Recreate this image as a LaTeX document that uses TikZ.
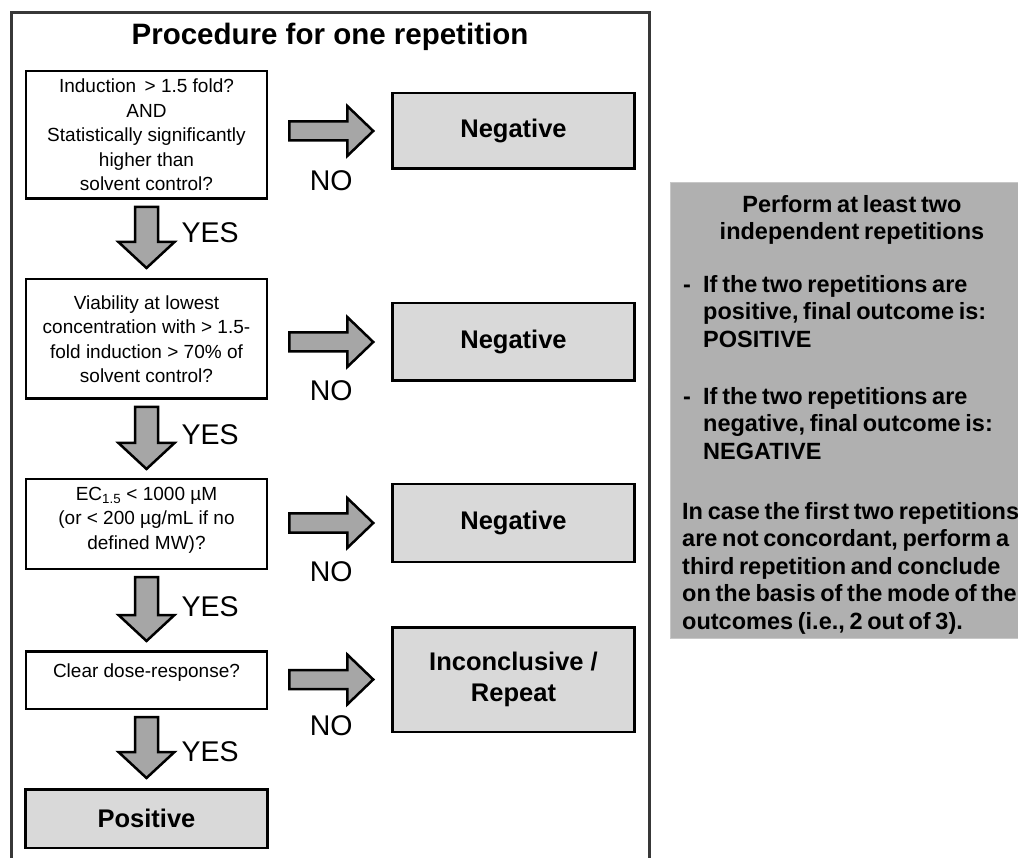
\documentclass[tikz,border=0pt]{standalone}
\usepackage{fontspec}
\setmainfont{Liberation Sans}
\usetikzlibrary{calc}
\newcommand\blockarrowdown[2]{\draw[barrow] ($(#1)+(-11.5,0)$) -- ($(#1)+(11.5,0)$) -- ($(#2)+(11.5,-26)$) -- ($(#2)+(28,-26)$) -- (#2) -- ($(#2)+(-28,-26)$) -- ($(#2)+(-11.5,-26)$) -- cycle;}
\newcommand\blockarrowright[2]{\draw[barrow] ($(#1)+(0,-9.5)$) -- ($(#2)+(-26,-9.5)$) -- ($(#2)+(-26,-25)$) -- (#2) -- ($(#2)+(-26,25)$) -- ($(#2)+(-26,9.5)$) -- ($(#1)+(0,9.5)$) -- cycle;}
\newcommand\tightwords{\spaceskip=0.2em plus 0.05em\relax}
\begin{document}
\begin{tikzpicture}[x=1pt,y=-1pt,
  frame/.style={draw=black!78, line width=3pt},
  qbox/.style={draw=black, line width=2.5pt, fill=white, minimum width=241pt, inner sep=2pt, align=center, font=\fontsize{19}{24.5}\selectfont},
  outc/.style={draw=black, line width=2.5pt, fill=black!15, minimum width=242pt, inner sep=2pt, align=center, font=\bfseries\fontsize{25.5}{31}\selectfont},
  barrow/.style={draw=black, line width=2.5pt, fill=black!35, line join=miter},
  yesno/.style={inner sep=0pt, font=\fontsize{28.5}{32}\selectfont},
  panel/.style={draw=black!22, line width=1pt, fill=black!31, minimum width=360pt, minimum height=456pt, inner sep=0pt},
  ptext/.style={inner sep=0pt, align=left, font=\bfseries\fontsize{23.5}{27.5}\selectfont}
]
\useasboundingbox (0,0) rectangle (1018,858);
\fill[white] (0,0) rectangle (1018,858);

% outer frame
\draw[frame] (11,875) -- (11,12.5) -- (649,12.5) -- (649,875);
\node[inner sep=0pt, anchor=base, font=\bfseries\fontsize{29.5}{34}\selectfont] (title) at (330,45) {Procedure for one repetition};

% question boxes
\node[qbox, minimum height=127.5pt] (q1) at (146.5,135) {Induction\, > 1.5 fold?\\AND\\Statistically significantly\\higher than\\solvent control?};
\node[qbox, minimum height=119.5pt] (q2) at (146.5,339) {Viability at lowest\\concentration with > 1.5-\\fold induction > 70\% of\\solvent control?};
\node[qbox, minimum height=89.5pt] (q3) at (146.5,524) {EC\textsubscript{1.5} < 1000 µM\\(or < 200 µg/mL if no\\defined MW)?\rule[-12pt]{0pt}{0pt}};
\node[qbox, minimum height=57.5pt] (q4) at (146.5,680) {Clear dose-response?\rule[-18pt]{0pt}{0pt}};
\node[outc, minimum height=58.5pt] (pos) at (146.5,818.5) {Positive};

% outcome boxes
\node[outc, minimum height=75.5pt] (n1) at (513.5,131) {Negative};
\node[outc, minimum height=77.5pt] (n2) at (513.5,342) {Negative};
\node[outc, minimum height=77.5pt] (n3) at (513.5,523) {Negative};
\node[outc, minimum height=104.5pt] (n4) at (513.5,679.5) {Inconclusive /\\Repeat};

% vertical arrows
\coordinate (a1s) at ($(q1.south)+(0,7)$);
\coordinate (a1e) at ($(q2.north)+(0,-10)$);
\coordinate (a2s) at ($(q2.south)+(0,7)$);
\coordinate (a2e) at ($(q3.north)+(0,-9)$);
\coordinate (a3s) at ($(q3.south)+(0,7)$);
\coordinate (a3e) at ($(q4.north)+(0,-9)$);
\coordinate (a4s) at ($(q4.south)+(0,7)$);
\coordinate (a4e) at ($(pos.north)+(0,-10)$);
\blockarrowdown{a1s}{a1e}
\blockarrowdown{a2s}{a2e}
\blockarrowdown{a3s}{a3e}
\blockarrowdown{a4s}{a4e}
\node[yesno, anchor=west] (y1) at ($(a1s)+(35,26)$) {YES};
\node[yesno, anchor=west] (y2) at ($(a2s)+(35,28)$) {YES};
\node[yesno, anchor=west] (y3) at ($(a3s)+(35,30)$) {YES};
\node[yesno, anchor=west] (y4) at ($(a4s)+(35,35)$) {YES};

% horizontal arrows
\coordinate (h1s) at ($(q1.east |- n1.west)+(21,0)$);
\coordinate (h1e) at ($(n1.west)+(-18,0)$);
\coordinate (h2s) at ($(q2.east |- n2.west)+(21,0)$);
\coordinate (h2e) at ($(n2.west)+(-18,0)$);
\coordinate (h3s) at ($(q3.east |- n3.west)+(21,0)$);
\coordinate (h3e) at ($(n3.west)+(-18,0)$);
\coordinate (h4s) at ($(q4.east |- n4.west)+(21,0)$);
\coordinate (h4e) at ($(n4.west)+(-18,0)$);
\blockarrowright{h1s}{h1e}
\blockarrowright{h2s}{h2e}
\blockarrowright{h3s}{h3e}
\blockarrowright{h4s}{h4e}
\node[yesno] (no1) at ($(h1s)!0.5!(h1e)+(0,50)$) {NO};
\node[yesno] (no2) at ($(h2s)!0.5!(h2e)+(0,49)$) {NO};
\node[yesno] (no3) at ($(h3s)!0.5!(h3e)+(0,49)$) {NO};
\node[yesno] (no4) at ($(h4s)!0.5!(h4e)+(0,46)$) {NO};

% right panel
\node[panel] (panel) at (850,410.5) {};
\node[ptext, align=center, anchor=north] (ptitle) at (852,195) {\tightwords Perform at least two\\\tightwords independent repetitions};
\node[ptext, anchor=north west] (pb1) at (683,275) {\tightwords\makebox[20pt][l]{-}If the two repetitions are\\\tightwords\hspace*{20pt}positive, final outcome is:\\\hspace*{20pt}POSITIVE};
\node[ptext, anchor=north west] (pb2) at (683,387) {\tightwords\makebox[20pt][l]{-}If the two repetitions are\\\tightwords\hspace*{20pt}negative, final outcome is:\\\hspace*{20pt}NEGATIVE};
\node[ptext, anchor=north west] (ppara) at (682,502) {\tightwords In case the first two repetitions\\\tightwords are not concordant, perform a\\\tightwords third repetition and conclude\\\tightwords on the basis of the mode of the\\\tightwords outcomes (i.e., 2 out of 3).};
\end{tikzpicture}
\end{document}
